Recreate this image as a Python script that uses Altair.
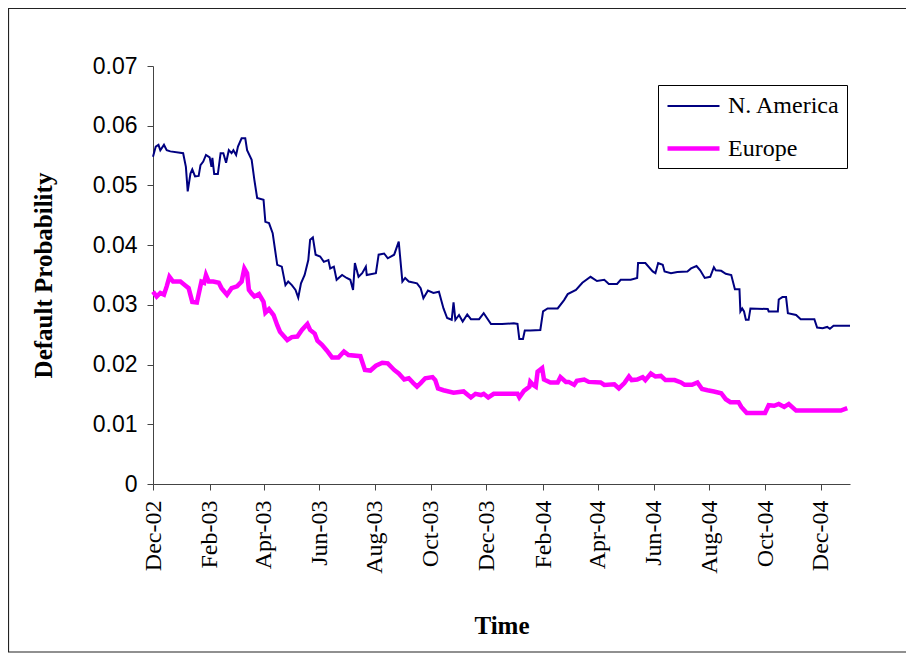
import altair as alt
import pandas as pd

# Days after 1 Dec 2002 and default probabilities
na_days = [0, 3, 6, 8, 12, 15, 19, 33, 36, 38, 41, 43, 46, 50, 52, 55, 58, 62, 64, 65,
           67, 71, 74, 77, 80, 83, 86, 88, 91, 93, 97, 101, 103, 108, 111, 114, 121, 123, 127, 131,
           136, 141, 145, 148, 152, 156, 159, 162, 166, 170, 172, 175, 178, 183, 187, 192, 194, 198, 201, 207,
           212, 216, 219, 221, 225, 229, 233, 234, 244, 247, 253, 257, 264, 269, 273, 276, 280, 289, 293, 296,
           301, 307, 313, 318, 322, 327, 329, 331, 335, 339, 344, 348, 357, 362, 370, 382, 395, 399, 401, 405,
           407, 413, 424, 427, 432, 443, 450, 454, 463, 470, 479, 486, 494, 499, 508, 512, 523, 530, 531, 539,
           547, 550, 553, 558, 560, 567, 574, 585, 589, 595, 599, 604, 610, 614, 616, 622, 627, 633, 637, 642,
           643, 645, 647, 649, 652, 654, 673, 674, 684, 685, 689, 693, 695, 704, 709, 724, 727, 733, 738, 741,
           745, 763]
na_vals = [0.0548, 0.0565, 0.0568, 0.0559, 0.0568, 0.0559, 0.0557, 0.0554, 0.0531, 0.0490, 0.0520, 0.0527, 0.0515, 0.0516, 0.0534, 0.0540, 0.0551, 0.0547, 0.0531, 0.0546,
           0.0519, 0.0519, 0.0554, 0.0554, 0.0538, 0.0559, 0.0554, 0.0559, 0.0551, 0.0565, 0.0579, 0.0579, 0.0559, 0.0543, 0.0509, 0.0479, 0.0476, 0.0439, 0.0437, 0.0420,
           0.0367, 0.0364, 0.0333, 0.0339, 0.0333, 0.0325, 0.0312, 0.0336, 0.0350, 0.0375, 0.0409, 0.0413, 0.0384, 0.0381, 0.0372, 0.0375, 0.0361, 0.0364, 0.0342, 0.0350,
           0.0345, 0.0342, 0.0325, 0.0370, 0.0347, 0.0353, 0.0364, 0.0350, 0.0353, 0.0384, 0.0386, 0.0378, 0.0384, 0.0406, 0.0339, 0.0345, 0.0339, 0.0336, 0.0328, 0.0311,
           0.0324, 0.0320, 0.0322, 0.0294, 0.0278, 0.0275, 0.0304, 0.0275, 0.0283, 0.0272, 0.0284, 0.0276, 0.0276, 0.0286, 0.0268, 0.0268, 0.0269, 0.0268, 0.0243, 0.0243,
           0.0257, 0.0257, 0.0258, 0.0289, 0.0294, 0.0294, 0.0308, 0.0318, 0.0325, 0.0337, 0.0347, 0.0340, 0.0342, 0.0335, 0.0335, 0.0342, 0.0342, 0.0345, 0.0370, 0.0370,
           0.0356, 0.0353, 0.0370, 0.0367, 0.0356, 0.0353, 0.0355, 0.0356, 0.0361, 0.0365, 0.0358, 0.0345, 0.0347, 0.0363, 0.0358, 0.0357, 0.0352, 0.0350, 0.0326, 0.0326,
           0.0289, 0.0294, 0.0289, 0.0275, 0.0275, 0.0294, 0.0293, 0.0289, 0.0289, 0.0309, 0.0313, 0.0313, 0.0286, 0.0283, 0.0276, 0.0276, 0.0262, 0.0261, 0.0263, 0.0260,
           0.0265, 0.0265]

eu_days = [0, 4, 8, 12, 15, 18, 22, 30, 35, 39, 43, 48, 51, 53, 56, 58, 61, 66, 72, 75,
           81, 86, 92, 97, 100, 103, 105, 108, 111, 116, 121, 123, 127, 132, 136, 139, 147, 152, 158, 163,
           169, 172, 177, 180, 185, 190, 196, 203, 209, 214, 227, 232, 238, 244, 251, 257, 264, 269, 275, 280,
           285, 289, 293, 298, 306, 309, 312, 318, 329, 340, 348, 353, 359, 362, 367, 373, 399, 401, 406, 412,
           413, 416, 419, 421, 426, 428, 435, 443, 446, 452, 455, 461, 464, 472, 477, 490, 494, 505, 510, 516,
           521, 524, 530, 536, 539, 545, 550, 556, 561, 571, 578, 582, 590, 596, 601, 607, 614, 622, 627, 632,
           641, 644, 650, 670, 674, 680, 685, 691, 696, 704, 753, 760]
eu_vals = [0.0322, 0.0314, 0.0320, 0.0317, 0.0331, 0.0347, 0.0339, 0.0339, 0.0333, 0.0328, 0.0305, 0.0304, 0.0325, 0.0339, 0.0337, 0.0350, 0.0339, 0.0339, 0.0337, 0.0328,
           0.0317, 0.0328, 0.0331, 0.0339, 0.0361, 0.0353, 0.0325, 0.0319, 0.0314, 0.0318, 0.0305, 0.0287, 0.0293, 0.0283, 0.0266, 0.0255, 0.0241, 0.0246, 0.0247, 0.0258,
           0.0268, 0.0258, 0.0252, 0.0240, 0.0233, 0.0224, 0.0212, 0.0212, 0.0222, 0.0216, 0.0214, 0.0191, 0.0190, 0.0198, 0.0203, 0.0202, 0.0191, 0.0185, 0.0175, 0.0177,
           0.0169, 0.0163, 0.0169, 0.0177, 0.0179, 0.0174, 0.0160, 0.0157, 0.0153, 0.0155, 0.0145, 0.0151, 0.0149, 0.0151, 0.0145, 0.0151, 0.0151, 0.0145, 0.0156, 0.0163,
           0.0171, 0.0166, 0.0163, 0.0188, 0.0194, 0.0175, 0.0170, 0.0170, 0.0179, 0.0171, 0.0171, 0.0166, 0.0173, 0.0175, 0.0171, 0.0170, 0.0166, 0.0167, 0.0160, 0.0169,
           0.0180, 0.0174, 0.0175, 0.0179, 0.0174, 0.0185, 0.0180, 0.0181, 0.0174, 0.0174, 0.0170, 0.0166, 0.0166, 0.0170, 0.0159, 0.0157, 0.0155, 0.0152, 0.0142, 0.0137,
           0.0137, 0.0129, 0.0119, 0.0119, 0.0132, 0.0131, 0.0134, 0.0129, 0.0134, 0.0123, 0.0123, 0.0127]

series_names = ["N. America", "Europe"]
series_colors = ["#000080", "#FF00FF"]
series_widths = [2, 4.5]
tick_months = [(2002, 12), (2003, 2), (2003, 4), (2003, 6), (2003, 8), (2003, 10), (2003, 12),
               (2004, 2), (2004, 4), (2004, 6), (2004, 8), (2004, 10), (2004, 12)]
y_ticks = [0, 0.01, 0.02, 0.03, 0.04, 0.05, 0.06, 0.07]

base = pd.Timestamp("2002-12-01")
df = pd.concat([
    pd.DataFrame({"date": base + pd.to_timedelta(na_days, unit="D"), "value": na_vals, "series": series_names[0]}),
    pd.DataFrame({"date": base + pd.to_timedelta(eu_days, unit="D"), "value": eu_vals, "series": series_names[1]}),
], ignore_index=True)

legend = alt.Legend(
    title=None, orient="none", legendX=505, legendY=19, padding=7,
    strokeColor="black", fillColor="white",
    labelFont="Liberation Serif", labelFontSize=24, labelColor="black",
    symbolType="M-1,0H3", symbolSize=676, rowPadding=15, labelOffset=32,
)

lines = alt.Chart(df).mark_line().encode(
    x=alt.X("date:T",
            scale=alt.Scale(domain=[alt.DateTime(year=2002, month=12, date=1),
                                    alt.DateTime(year=2005, month=1, date=2)]),
            axis=alt.Axis(values=[alt.DateTime(year=y, month=m, date=1) for y, m in tick_months],
                          format="%b-%y", labelAngle=270, labelFont="Liberation Serif",
                          labelFontSize=24, labelColor="black", labelPadding=10, tickSize=6,
                          domainColor="#444", tickColor="#444", grid=False,
                          title="Time", titleFont="Liberation Serif", titleFontSize=25,
                          titleFontWeight="bold", titleColor="black", titleY=149,
                          titleBaseline="alphabetic")),
    y=alt.Y("value:Q",
            scale=alt.Scale(domain=[0, 0.07], nice=False),
            axis=alt.Axis(values=y_ticks, format="~g", labelFont="Liberation Sans",
                          labelFontSize=23, labelColor="black", labelPadding=10, tickSize=6,
                          domainColor="#444", tickColor="#444", grid=False,
                          title="Default Probability", titleFont="Liberation Serif",
                          titleFontSize=25, titleFontWeight="bold", titleColor="black",
                          titleAngle=270, titleX=-102, titleY=209, titleAlign="center",
                          titleBaseline="alphabetic")),
    color=alt.Color("series:N", scale=alt.Scale(domain=series_names, range=series_colors), legend=legend),
    strokeWidth=alt.StrokeWidth("series:N", scale=alt.Scale(domain=series_names, range=series_widths), legend=legend),
)

frame = alt.Chart(pd.DataFrame({"k": [0]})).mark_rect(filled=False, stroke="#222", strokeWidth=1.2).encode(
    x=alt.value(-144.5), x2=alt.value(760), y=alt.value(-57.5), y2=alt.value(586)
)

chart = alt.layer(frame, lines).properties(
    width=697, height=418,
    padding={"left": 145, "top": 58, "right": 56, "bottom": 170},
    autosize=alt.AutoSizeParams(type="none"),
).configure_view(stroke=None)

chart.save("out.html", embed_options={"renderer": "svg", "actions": False})
